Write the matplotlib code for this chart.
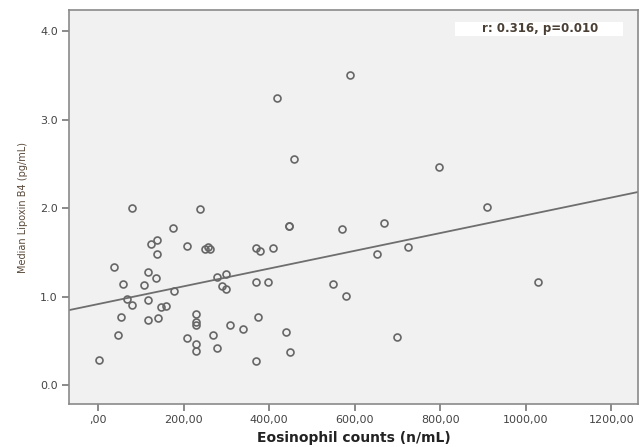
import matplotlib
matplotlib.use("Agg")
import matplotlib.pyplot as plt
from matplotlib.patches import Rectangle
from matplotlib.ticker import FuncFormatter
import numpy as np

# eosinophil counts (n/mL) and median lipoxin B4 (pg/mL)
eos = [589, 418, 458, 797, 909, 79, 238, 668, 446, 446,
       175, 570, 138, 124, 207, 250, 258, 262, 724, 369,
       379, 409, 138, 651, 37, 117, 299, 278, 136, 58,
       107, 290, 369, 397, 549, 1028, 299, 178, 579, 68,
       117, 79, 147, 159, 229, 54, 374, 140, 117, 229,
       229, 308, 339, 439, 268, 47, 699, 207, 229, 278,
       229, 449, 2, 369]
lxb4 = [3.50, 3.24, 2.56, 2.46, 2.01, 2.00, 1.99, 1.83, 1.80, 1.80,
        1.77, 1.76, 1.64, 1.59, 1.57, 1.54, 1.56, 1.54, 1.56, 1.55,
        1.51, 1.55, 1.48, 1.48, 1.33, 1.28, 1.26, 1.22, 1.21, 1.14,
        1.13, 1.12, 1.16, 1.16, 1.14, 1.16, 1.08, 1.06, 1.01, 0.97,
        0.96, 0.90, 0.88, 0.89, 0.80, 0.77, 0.77, 0.76, 0.73, 0.71,
        0.68, 0.68, 0.63, 0.60, 0.57, 0.56, 0.54, 0.53, 0.46, 0.42,
        0.38, 0.37, 0.28, 0.27]
x_ticks = [0, 200, 400, 600, 800, 1000, 1200]
y_ticks = [0.0, 1.0, 2.0, 3.0, 4.0]
stats_text = "r: 0.316, p=0.010"

x = np.array(eos, dtype=float)
y = np.array(lxb4, dtype=float)

fig = plt.figure(figsize=(6.41, 4.47), dpi=100)
ax = fig.add_axes([0.1076, 0.0962, 0.8877, 0.8814])
ax.set_facecolor("#f1f1f1")

xlim = (-68, 1262)
ylim = (-0.215, 4.24)

# fit line over the full x range like SPSS does
slope, icpt = np.polyfit(x, y, 1)
xx = np.array(xlim)
ax.plot(xx, icpt + slope * xx, color="#6e6e6e", lw=1.3, zorder=2)

ax.plot(x, y, "o", ms=5.0, mfc="none", mec="#666666", mew=1.2, zorder=3)

ax.set_xlim(*xlim)
ax.set_ylim(*ylim)
ax.set_xticks(x_ticks)
ax.set_yticks(y_ticks)

def comma_fmt(v, pos):
    s = "%.2f" % v
    s = s.replace(".", ",")
    if s.startswith("0,"):
        s = s[1:]
    return s

ax.xaxis.set_major_formatter(FuncFormatter(comma_fmt))
ax.yaxis.set_major_formatter(FuncFormatter(lambda v, p: "%.1f" % v))

for sp in ax.spines.values():
    sp.set_color("#8a8a8a")
    sp.set_linewidth(1.2)
ax.tick_params(direction="out", length=5, width=1.2, color="#777777",
               labelsize=8, labelcolor="#444444", pad=3)

ax.set_ylabel("Median Lipoxin B4 (pg/mL)", fontsize=7, color="#5a4a3a", labelpad=9)
ax.set_xlabel("Eosinophil counts (n/mL)", fontsize=10, fontweight="bold",
              color="#222222", labelpad=4)

# white label box with the correlation result
ax.add_patch(Rectangle((0.678, 0.934), 0.296, 0.036, transform=ax.transAxes,
                       facecolor="white", edgecolor="none", zorder=4))
ax.text(0.828, 0.952, stats_text, transform=ax.transAxes, ha="center", va="center",
        fontsize=8.5, fontweight="bold", color="#4a3f35", zorder=5)

fig.savefig("out.png", dpi=100, facecolor="white")
